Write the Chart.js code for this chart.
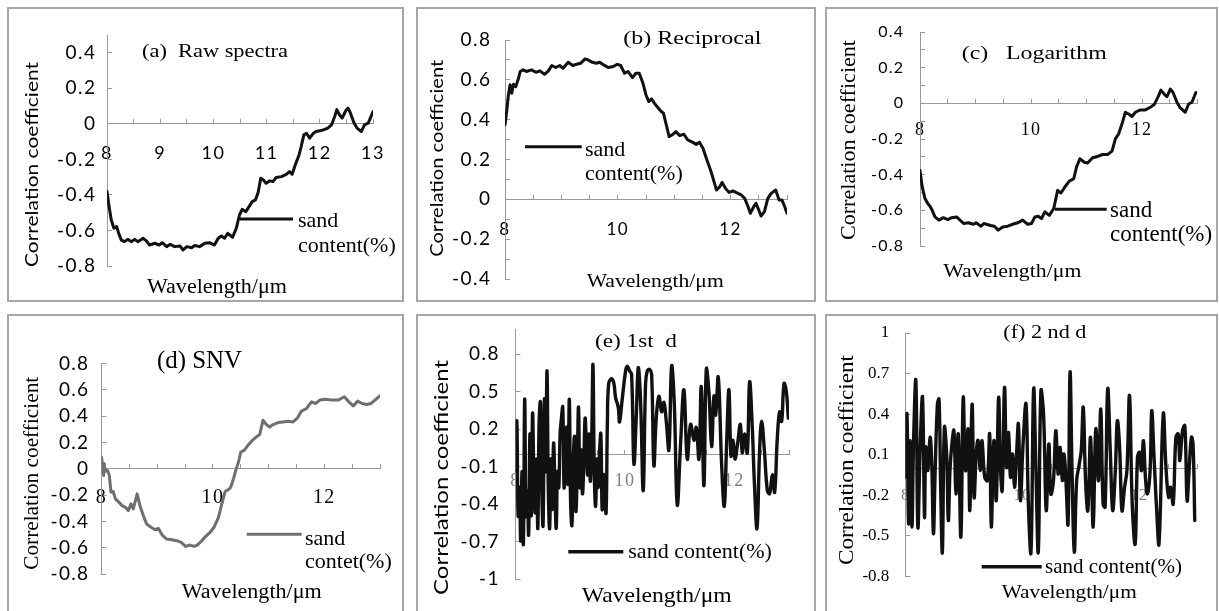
<!DOCTYPE html>
<html><head><meta charset="utf-8">
<script src="https://cdn.jsdelivr.net/npm/chart.js@4.4.0/dist/chart.umd.min.js"></script>
<style>
body{margin:0;background:#fff;width:1219px;height:611px;overflow:hidden;position:relative}
.box{position:absolute;box-sizing:border-box;border:2px solid #a6a6a6}
canvas{position:absolute;left:0;top:0}
</style></head><body>
<div class="box" style="left:7px;top:7px;width:397px;height:295px"></div>
<div class="box" style="left:416px;top:7px;width:400px;height:295px"></div>
<div class="box" style="left:825px;top:7px;width:393px;height:295px"></div>
<div class="box" style="left:7px;top:314px;width:397px;height:310px"></div>
<div class="box" style="left:416px;top:314px;width:400px;height:310px"></div>
<div class="box" style="left:825px;top:314px;width:393px;height:310px"></div>
<canvas id="ca" width="1219" height="611"></canvas>
<canvas id="cb" width="1219" height="611"></canvas>
<canvas id="cc" width="1219" height="611"></canvas>
<canvas id="cd" width="1219" height="611"></canvas>
<canvas id="ce" width="1219" height="611"></canvas>
<canvas id="cf" width="1219" height="611"></canvas>
<script>
// ---------------- DATA ----------------
const seriesLabel = 'sand content(%)';
const seriesLabelD = 'sand contet(%)';

const xTicksAll = [8, 8.5, 9, 9.5, 10, 10.5, 11, 11.5, 12, 12.5, 13];
const xLabelsA = [8, 9, 10, 11, 12, 13];
const xLabelsOther = [8, 10, 12];

const yTicksA = [-0.8, -0.6, -0.4, -0.2, 0, 0.2, 0.4];
const yLabelsA = [-0.8, -0.6, -0.4, -0.2, 0, 0.2, 0.4];
const yTicksB = [-0.4, -0.3, -0.2, -0.1, 0, 0.1, 0.2, 0.3, 0.4, 0.5, 0.6, 0.7, 0.8];
const yLabelsB = [-0.4, -0.2, 0, 0.2, 0.4, 0.6, 0.8];
const yTicksC = [-0.8, -0.7, -0.6, -0.5, -0.4, -0.3, -0.2, -0.1, 0, 0.1, 0.2, 0.3, 0.4];
const yLabelsC = [-0.8, -0.6, -0.4, -0.2, 0, 0.2, 0.4];
const yTicksD = [-0.8, -0.6, -0.4, -0.2, 0, 0.2, 0.4, 0.6, 0.8];
const yLabelsD = [-0.8, -0.6, -0.4, -0.2, 0, 0.2, 0.4, 0.6, 0.8];
const yTicksE = [-1, -0.7, -0.4, -0.1, 0.2, 0.5, 0.8];
const yLabelsE = [-1, -0.7, -0.4, -0.1, 0.2, 0.5, 0.8];
const yTicksF = [-0.8, -0.5, -0.2, 0.1, 0.4, 0.7, 1];
const yLabelsF = [-0.8, -0.5, -0.2, 0.1, 0.4, 0.7, 1];

// (a) Raw spectra
const wavelengthA = [8.00,8.04,8.08,8.13,8.18,8.23,8.27,8.33,8.39,8.46,8.52,8.58,8.68,8.74,8.80,8.90,8.98,9.04,9.12,9.19,9.27,9.37,9.43,9.50,9.59,9.65,9.74,9.84,9.93,10.02,10.09,10.15,10.21,10.27,10.36,10.43,10.49,10.54,10.61,10.67,10.73,10.79,10.84,10.89,10.94,10.99,11.06,11.12,11.18,11.28,11.37,11.43,11.48,11.55,11.61,11.65,11.70,11.75,11.81,11.87,11.93,12.03,12.15,12.22,12.28,12.32,12.37,12.42,12.49,12.53,12.57,12.64,12.70,12.78,12.84,12.91,12.95,13.00];
const corrA = [-0.381,-0.466,-0.541,-0.588,-0.578,-0.625,-0.654,-0.663,-0.650,-0.663,-0.650,-0.663,-0.644,-0.659,-0.682,-0.672,-0.682,-0.669,-0.691,-0.678,-0.691,-0.687,-0.710,-0.691,-0.697,-0.685,-0.691,-0.672,-0.669,-0.682,-0.644,-0.631,-0.644,-0.616,-0.638,-0.588,-0.513,-0.481,-0.494,-0.466,-0.438,-0.428,-0.387,-0.306,-0.316,-0.334,-0.321,-0.325,-0.302,-0.297,-0.284,-0.269,-0.284,-0.222,-0.175,-0.128,-0.062,-0.053,-0.081,-0.056,-0.043,-0.038,-0.024,-0.006,0.041,0.080,0.051,0.032,0.075,0.088,0.065,0.008,-0.024,-0.043,-0.006,0.004,0.032,0.069];

// (b) Reciprocal
const wavelengthB = [8.00,8.03,8.06,8.09,8.12,8.15,8.19,8.24,8.27,8.32,8.38,8.47,8.55,8.62,8.70,8.77,8.83,8.90,8.97,9.03,9.12,9.20,9.27,9.34,9.42,9.47,9.55,9.62,9.68,9.75,9.83,9.92,9.99,10.05,10.12,10.18,10.26,10.32,10.38,10.44,10.50,10.55,10.60,10.65,10.71,10.77,10.81,10.86,10.91,10.98,11.03,11.10,11.17,11.24,11.33,11.39,11.45,11.51,11.58,11.65,11.71,11.75,11.81,11.85,11.91,11.97,12.04,12.13,12.19,12.25,12.31,12.35,12.41,12.45,12.50,12.54,12.60,12.66,12.72,12.80,12.86,12.91,12.96,13.00];
const corrB = [0.374,0.441,0.524,0.575,0.533,0.578,0.566,0.608,0.642,0.650,0.642,0.650,0.638,0.645,0.628,0.645,0.672,0.662,0.672,0.658,0.688,0.672,0.678,0.683,0.705,0.700,0.688,0.683,0.688,0.675,0.662,0.667,0.678,0.672,0.633,0.642,0.611,0.633,0.633,0.588,0.524,0.491,0.504,0.482,0.461,0.441,0.432,0.374,0.315,0.327,0.340,0.320,0.327,0.298,0.286,0.276,0.286,0.256,0.198,0.142,0.085,0.047,0.064,0.085,0.055,0.035,0.042,0.030,0.022,0.005,-0.037,-0.070,-0.037,-0.020,-0.054,-0.084,-0.062,0.005,0.030,0.047,-0.003,-0.003,-0.037,-0.070];

// (c) Logarithm
const wavelengthC = [8.00,8.04,8.09,8.14,8.18,8.22,8.27,8.34,8.42,8.50,8.57,8.66,8.72,8.79,8.87,8.96,9.01,9.10,9.15,9.27,9.34,9.41,9.49,9.58,9.67,9.76,9.85,9.94,10.01,10.07,10.13,10.19,10.25,10.33,10.41,10.48,10.54,10.61,10.69,10.77,10.82,10.88,10.96,11.02,11.11,11.20,11.29,11.38,11.46,11.52,11.58,11.64,11.70,11.76,11.82,11.88,11.97,12.06,12.15,12.22,12.30,12.34,12.40,12.45,12.51,12.56,12.63,12.69,12.78,12.84,12.90,12.97];
const corrC = [-0.376,-0.469,-0.534,-0.562,-0.577,-0.600,-0.637,-0.655,-0.641,-0.652,-0.641,-0.637,-0.655,-0.674,-0.670,-0.678,-0.670,-0.689,-0.674,-0.685,-0.689,-0.711,-0.693,-0.689,-0.678,-0.670,-0.655,-0.678,-0.674,-0.637,-0.633,-0.646,-0.609,-0.628,-0.590,-0.488,-0.503,-0.469,-0.436,-0.423,-0.358,-0.311,-0.330,-0.335,-0.305,-0.298,-0.287,-0.287,-0.268,-0.199,-0.171,-0.115,-0.050,-0.060,-0.074,-0.050,-0.037,-0.037,-0.022,-0.007,0.043,0.074,0.052,0.037,0.080,0.061,0.006,-0.026,-0.050,-0.004,0.006,0.061];

// (d) SNV
const wavelengthD = [8.00,8.02,8.04,8.05,8.07,8.11,8.14,8.17,8.21,8.25,8.31,8.37,8.43,8.48,8.53,8.57,8.61,8.64,8.69,8.75,8.81,8.89,8.96,9.02,9.09,9.17,9.26,9.35,9.43,9.51,9.59,9.66,9.72,9.80,9.87,9.95,10.02,10.10,10.16,10.22,10.28,10.32,10.37,10.41,10.46,10.50,10.56,10.63,10.71,10.78,10.84,10.90,10.96,11.02,11.08,11.17,11.26,11.35,11.44,11.52,11.59,11.68,11.77,11.84,11.92,12.01,12.13,12.25,12.36,12.44,12.52,12.60,12.68,12.76,12.84,12.91,13.00];
const corrD = [0.089,0.025,-0.051,0.038,-0.020,-0.013,-0.051,-0.178,-0.173,-0.229,-0.254,-0.280,-0.293,-0.318,-0.267,-0.305,-0.242,-0.191,-0.280,-0.356,-0.420,-0.445,-0.463,-0.453,-0.504,-0.534,-0.539,-0.547,-0.560,-0.590,-0.580,-0.590,-0.580,-0.547,-0.514,-0.483,-0.445,-0.369,-0.267,-0.173,-0.158,-0.140,-0.076,-0.013,0.051,0.127,0.140,0.178,0.216,0.242,0.260,0.369,0.336,0.318,0.336,0.351,0.356,0.361,0.356,0.387,0.438,0.458,0.509,0.496,0.522,0.529,0.522,0.522,0.547,0.509,0.478,0.514,0.496,0.489,0.496,0.522,0.555];

// (e) 1st d
const wavelengthE = [8.000,8.024,8.048,8.072,8.096,8.120,8.144,8.168,8.192,8.216,8.240,8.264,8.288,8.312,8.336,8.360,8.384,8.408,8.432,8.456,8.480,8.504,8.528,8.552,8.576,8.600,8.624,8.648,8.672,8.696,8.720,8.744,8.768,8.792,8.816,8.840,8.864,8.888,8.912,8.936,8.960,8.984,9.008,9.032,9.056,9.080,9.104,9.128,9.152,9.176,9.200,9.224,9.248,9.272,9.296,9.320,9.344,9.368,9.392,9.416,9.440,9.464,9.488,9.512,9.536,9.560,9.584,9.608,9.632,9.656,9.680,9.704,9.756,9.799,9.829,9.878,9.902,9.951,10.012,10.043,10.085,10.122,10.165,10.207,10.244,10.287,10.335,10.378,10.409,10.451,10.488,10.530,10.573,10.622,10.671,10.713,10.756,10.805,10.854,10.902,10.957,11.018,11.079,11.140,11.201,11.262,11.305,11.354,11.396,11.445,11.488,11.537,11.585,11.628,11.659,11.707,11.768,11.817,11.860,11.902,11.939,11.976,12.012,12.061,12.110,12.146,12.189,12.238,12.280,12.329,12.366,12.415,12.463,12.500,12.549,12.604,12.646,12.695,12.738,12.787,12.829,12.866,12.909,12.951,12.988];
const corrE = [-0.141,0.262,-0.494,-0.267,-0.695,-0.141,-0.720,0.438,-0.494,-0.292,-0.645,0.161,-0.494,0.325,-0.191,-0.469,-0.040,-0.594,0.262,0.413,-0.292,-0.569,0.438,-0.141,0.665,-0.292,-0.594,-0.040,-0.443,0.086,-0.242,-0.594,-0.141,-0.267,0.161,0.287,0.375,-0.267,0.035,0.212,-0.242,0.438,-0.393,-0.569,-0.040,0.136,-0.456,-0.141,0.375,-0.267,0.035,-0.317,-0.091,0.287,0.060,-0.166,0.161,-0.217,0.086,0.715,-0.141,-0.418,-0.040,-0.267,0.010,0.161,-0.443,-0.166,-0.292,-0.469,0.262,0.564,0.602,0.564,0.451,0.375,0.257,0.438,0.665,0.703,0.665,0.640,-0.078,0.287,0.690,0.413,-0.292,0.564,0.665,0.678,0.640,-0.091,0.287,0.463,0.338,0.413,0.262,0.035,0.703,0.413,-0.406,0.086,0.514,-0.040,0.237,0.111,0.212,-0.040,0.539,-0.254,0.678,0.489,0.060,0.463,0.312,0.615,-0.078,-0.418,0.086,0.514,-0.015,0.111,-0.040,0.086,0.237,0.010,0.161,0.010,0.577,0.212,-0.217,-0.594,0.035,0.262,0.035,-0.292,-0.317,-0.166,-0.305,0.136,0.338,0.262,0.564,0.501,0.287];

// (f) 2nd d
const wavelengthF = [8.000,8.028,8.057,8.085,8.113,8.142,8.181,8.215,8.255,8.295,8.329,8.351,8.385,8.425,8.453,8.482,8.510,8.550,8.578,8.606,8.635,8.669,8.708,8.737,8.765,8.793,8.833,8.867,8.907,8.952,8.992,9.031,9.076,9.105,9.144,9.178,9.218,9.246,9.286,9.314,9.360,9.405,9.445,9.473,9.518,9.558,9.598,9.632,9.660,9.700,9.734,9.768,9.802,9.836,9.870,9.904,9.938,9.972,10.017,10.068,10.108,10.153,10.198,10.238,10.278,10.323,10.368,10.414,10.459,10.493,10.538,10.578,10.618,10.652,10.691,10.720,10.754,10.788,10.822,10.856,10.895,10.935,10.980,11.014,11.048,11.088,11.127,11.173,11.218,11.263,11.309,11.348,11.388,11.422,11.467,11.513,11.552,11.598,11.632,11.671,11.711,11.756,11.796,11.841,11.887,11.938,11.977,12.011,12.045,12.079,12.113,12.147,12.193,12.221,12.261,12.306,12.346,12.419,12.465,12.510,12.544,12.589,12.635,12.674,12.703,12.748,12.788,12.827,12.861,12.901,12.929,12.958];
const corrF = [-0.066,0.400,-0.410,0.204,-0.435,0.204,0.646,-0.435,0.155,0.523,-0.361,0.155,-0.017,0.229,0.032,-0.484,-0.042,0.474,0.511,-0.140,-0.620,0.302,0.106,-0.386,-0.017,0.155,0.278,-0.189,0.253,-0.509,0.523,-0.017,0.290,-0.312,0.474,-0.214,0.130,0.204,-0.017,0.204,-0.066,-0.091,0.253,-0.435,0.204,-0.238,0.523,-0.017,-0.165,0.597,0.007,0.265,-0.066,0.106,-0.140,0.093,0.327,-0.238,0.179,0.474,-0.263,-0.620,0.585,-0.017,-0.620,0.572,0.400,-0.312,0.179,-0.189,-0.091,0.278,-0.042,0.155,-0.091,0.106,-0.115,-0.410,0.708,-0.017,-0.620,-0.091,0.032,0.130,0.450,-0.091,-0.312,0.229,-0.435,0.290,-0.091,0.437,-0.263,-0.287,0.585,0.106,-0.312,-0.017,0.351,0.155,-0.312,-0.140,-0.017,0.536,-0.263,-0.558,0.081,0.118,-0.017,0.204,-0.066,-0.189,-0.017,0.425,0.081,-0.312,-0.558,0.400,0.007,-0.214,-0.140,-0.263,0.229,0.253,0.057,0.278,0.314,-0.238,-0.017,0.229,0.179,-0.386];

// ---------------- RENDERING ----------------
const SERIF = '"Liberation Serif", "Times New Roman", serif';
const SANS = 'Lato, "Open Sans", sans-serif';
const AXIS = '#9a9a9a';
const fmt = v => String(Number(v.toFixed(2)));

function drawText(ctx, t) {
  ctx.save();
  ctx.letterSpacing = '0px';
  ctx.font = `${t.size}px ${t.fam}`;
  ctx.fillStyle = t.color || '#000';
  ctx.textBaseline = 'alphabetic';
  ctx.textAlign = t.rot ? 'center' : 'left';
  const m = ctx.measureText(t.t).width;
  const sx = t.w ? t.w / m : 1;
  ctx.translate(t.x, t.y);
  if (t.rot) ctx.rotate(-Math.PI / 2);
  ctx.scale(sx, 1);
  ctx.fillText(t.t, 0, 0);
  ctx.restore();
}

const panelText = {
  id: 'panelText',
  beforeDraw(chart, args, o) { chart.ctx.letterSpacing = (o.lsY || 0) + 'px'; },
  afterDatasetsDraw(chart, args, o) { chart.ctx.letterSpacing = (o.lsX || 0) + 'px'; },
  afterDraw(chart, args, o) {
    const ctx = chart.ctx;
    ctx.letterSpacing = '0px';
    const ds = chart.data.datasets[0];
    const lg = o.legend;
    ctx.save();
    ctx.strokeStyle = ds.borderColor; ctx.lineWidth = ds.borderWidth;
    ctx.beginPath(); ctx.moveTo(lg.x1, lg.y); ctx.lineTo(lg.x2, lg.y); ctx.stroke();
    ctx.restore();
    const lines = lg.ys.length > 1 ? ds.label.split(' ') : [ds.label];
    lines.forEach((ln, i) => drawText(ctx, {t: ln, x: lg.tx, y: lg.ys[i], size: lg.size, fam: SERIF}));
    (o.texts || []).forEach(t => drawText(ctx, t));
  }
};

function makePanel(id, p) {
  const pts = p.xs.map((x, i) => ({x, y: p.ys[i]}));
  const tlen = -5;
  new Chart(document.getElementById(id), {
    type: 'line',
    data: { datasets: [{ label: p.label, data: pts, borderColor: p.color, borderWidth: p.lw,
      pointRadius: 0, tension: p.tension, fill: false, borderJoinStyle: 'round', borderCapStyle: 'round' }] },
    options: {
      responsive: false, animation: false, devicePixelRatio: 1, events: [],
      layout: { padding: { left: p.area.l - 60, right: 1219 - p.area.r, top: p.area.t, bottom: 611 - p.area.b } },
      plugins: { legend: { display: false }, tooltip: { enabled: false }, title: { display: false },
        panelText: { texts: p.texts, legend: p.legend, lsX: p.xFont.ls, lsY: p.yFont.ls } },
      scales: {
        x: { type: 'linear', position: { y: 0 }, min: 8, max: 13, z: 1,
          afterBuildTicks: s => { s.ticks = xTicksAll.map(v => ({ value: v })); },
          grid: { drawOnChartArea: false, drawTicks: true, tickLength: tlen, tickColor: AXIS, tickWidth: 1 },
          border: { display: true, color: AXIS, width: 1 },
          ticks: { autoSkip: false, maxRotation: 0, minRotation: 0, color: p.xFont.color || '#000',
            font: { family: p.xFont.fam, size: p.xFont.size },
            padding: p.xD - tlen - 0.6 * p.xFont.size,
            callback: v => p.xLabels.includes(v) ? fmt(v) : '' } },
        y: { type: 'linear', position: 'left', min: p.ymin, max: p.ymax,
          afterFit: s => { s.width = 60; },
          afterBuildTicks: s => { s.ticks = p.yTicks.map(v => ({ value: v })); },
          grid: { drawOnChartArea: false, drawTicks: true, tickLength: tlen, tickColor: AXIS, tickWidth: 1 },
          border: { display: true, color: AXIS, width: 1 },
          ticks: { autoSkip: false, color: '#000', font: { family: p.yFont.fam, size: p.yFont.size },
            padding: p.yGap - tlen - (p.yFont.ls || 0),
            callback: v => p.yLabels.includes(v) ? fmt(v) : '' } }
      }
    },
    plugins: [panelText]
  });
}

makePanel('ca', {
  label: seriesLabel, xs: wavelengthA, ys: corrA, color: '#111', lw: 3, tension: 0,
  area: { l: 107, r: 373, t: 35, b: 266 }, ymin: -0.8, ymax: 0.5, yTicks: yTicksA, yLabels: yLabelsA, yGap: 12,
  xLabels: xLabelsA, xD: 29.3,
  yFont: { fam: SANS, size: 19, ls: 1.5 }, xFont: { fam: SANS, size: 18, ls: 0.5 },
  legend: { x1: 240, x2: 293, y: 219, tx: 298, ys: [226.7, 252], size: 22 },
  texts: [
    { t: '(a)  Raw spectra', x: 142, y: 57, size: 18, fam: SERIF, w: 146 },
    { t: 'Correlation coefficient', x: 38, y: 164.5, size: 18, fam: SANS, w: 205, rot: true },
    { t: 'Wavelength/μm', x: 147, y: 293, size: 20, fam: SERIF, w: 140 }
  ]
});
makePanel('cb', {
  label: seriesLabel, xs: wavelengthB, ys: corrB, color: '#111', lw: 3, tension: 0,
  area: { l: 505, r: 787, t: 40, b: 279 }, ymin: -0.4, ymax: 0.8, yTicks: yTicksB, yLabels: yLabelsB, yGap: 15,
  xLabels: xLabelsOther, xD: 30.2,
  yFont: { fam: SANS, size: 19, ls: 1.5 }, xFont: { fam: SANS, size: 17, ls: 1 },
  legend: { x1: 525, x2: 581.7, y: 146.7, tx: 585, ys: [155.5, 180], size: 22 },
  texts: [
    { t: '(b) Reciprocal', x: 623.3, y: 44, size: 19, fam: SERIF, w: 138 },
    { t: 'Correlation coefficient', x: 443.3, y: 158.3, size: 18, fam: SANS, w: 197, rot: true },
    { t: 'Wavelength/μm', x: 586.7, y: 286.7, size: 19, fam: SERIF, w: 137 }
  ]
});
makePanel('cc', {
  label: seriesLabel, xs: wavelengthC, ys: corrC, color: '#111', lw: 3, tension: 0,
  area: { l: 920, r: 1199, t: 32, b: 246 }, ymin: -0.8, ymax: 0.4, yTicks: yTicksC, yLabels: yLabelsC, yGap: 17,
  xLabels: xLabelsOther, xD: 27.3,
  yFont: { fam: SANS, size: 16, ls: 1.2 }, xFont: { fam: SERIF, size: 18, ls: 1.5 },
  legend: { x1: 1055, x2: 1106.7, y: 209.3, tx: 1110, ys: [217, 241], size: 23 },
  texts: [
    { t: '(c)   Logarithm', x: 961.7, y: 59.3, size: 18, fam: SERIF, w: 145 },
    { t: 'Correlation coefficient', x: 855, y: 140, size: 22, fam: SERIF, w: 200, rot: true },
    { t: 'Wavelength/μm', x: 943.3, y: 276.7, size: 19, fam: SERIF, w: 138 }
  ]
});
makePanel('cd', {
  label: seriesLabelD, xs: wavelengthD, ys: corrD, color: '#6f6f6f', lw: 3, tension: 0,
  area: { l: 101.5, r: 380, t: 363.5, b: 574 }, ymin: -0.8, ymax: 0.8, yTicks: yTicksD, yLabels: yLabelsD, yGap: 13.5,
  xLabels: xLabelsOther, xD: 28.9,
  yFont: { fam: SANS, size: 19, ls: 1.3 }, xFont: { fam: SERIF, size: 20, ls: 1 },
  legend: { x1: 246.7, x2: 301.7, y: 534.3, tx: 305, ys: [544.5, 568.3], size: 22 },
  texts: [
    { t: '(d) SNV', x: 157, y: 368.3, size: 25, fam: SERIF, w: 85 },
    { t: 'Correlation coefficient', x: 38.3, y: 473.3, size: 21, fam: SERIF, w: 193, rot: true },
    { t: 'Wavelength/μm', x: 181.7, y: 598.3, size: 20, fam: SERIF, w: 140 }
  ]
});
makePanel('ce', {
  label: seriesLabel, xs: wavelengthE, ys: corrE, color: '#111', lw: 3.4, tension: 0.4,
  area: { l: 515.5, r: 789, t: 329, b: 595 }, ymin: -1, ymax: 1, yTicks: yTicksE, yLabels: yLabelsE, yGap: 17,
  xLabels: xLabelsOther, xD: 27.2,
  yFont: { fam: SANS, size: 19, ls: 1.5 }, xFont: { fam: SERIF, size: 18, ls: 1, color: '#808080' },
  legend: { x1: 568.3, x2: 623.3, y: 551.7, tx: 628.3, ys: [558.3], size: 22 },
  texts: [
    { t: '(e) 1st  d', x: 595, y: 346.7, size: 18, fam: SERIF, w: 82 },
    { t: 'Correlation coefficient', x: 448.3, y: 477.5, size: 20, fam: SANS, w: 235, rot: true },
    { t: 'Wavelength/μm', x: 581.7, y: 601.7, size: 21, fam: SERIF, w: 150 }
  ]
});
makePanel('cf', {
  label: seriesLabel, xs: wavelengthF, ys: corrF, color: '#111', lw: 3.4, tension: 0.4,
  area: { l: 905.3, r: 1199, t: 333, b: 576.5 }, ymin: -0.8, ymax: 1, yTicks: yTicksF, yLabels: yLabelsF, yGap: 16,
  xLabels: xLabelsOther, xD: 27,
  yFont: { fam: SERIF, size: 17, ls: 0 }, xFont: { fam: SERIF, size: 17, ls: 0.5, color: '#808080' },
  legend: { x1: 981.7, x2: 1041.7, y: 566.7, tx: 1045, ys: [573.3], size: 21 },
  texts: [
    { t: '(f) 2 nd d', x: 1003.3, y: 338.3, size: 18, fam: SERIF, w: 83 },
    { t: 'Correlation coefficient', x: 853.3, y: 460, size: 22, fam: SERIF, w: 210, rot: true },
    { t: 'Wavelength/μm', x: 1001.7, y: 598.3, size: 19, fam: SERIF, w: 135 }
  ]
});
</script>
</body></html>
